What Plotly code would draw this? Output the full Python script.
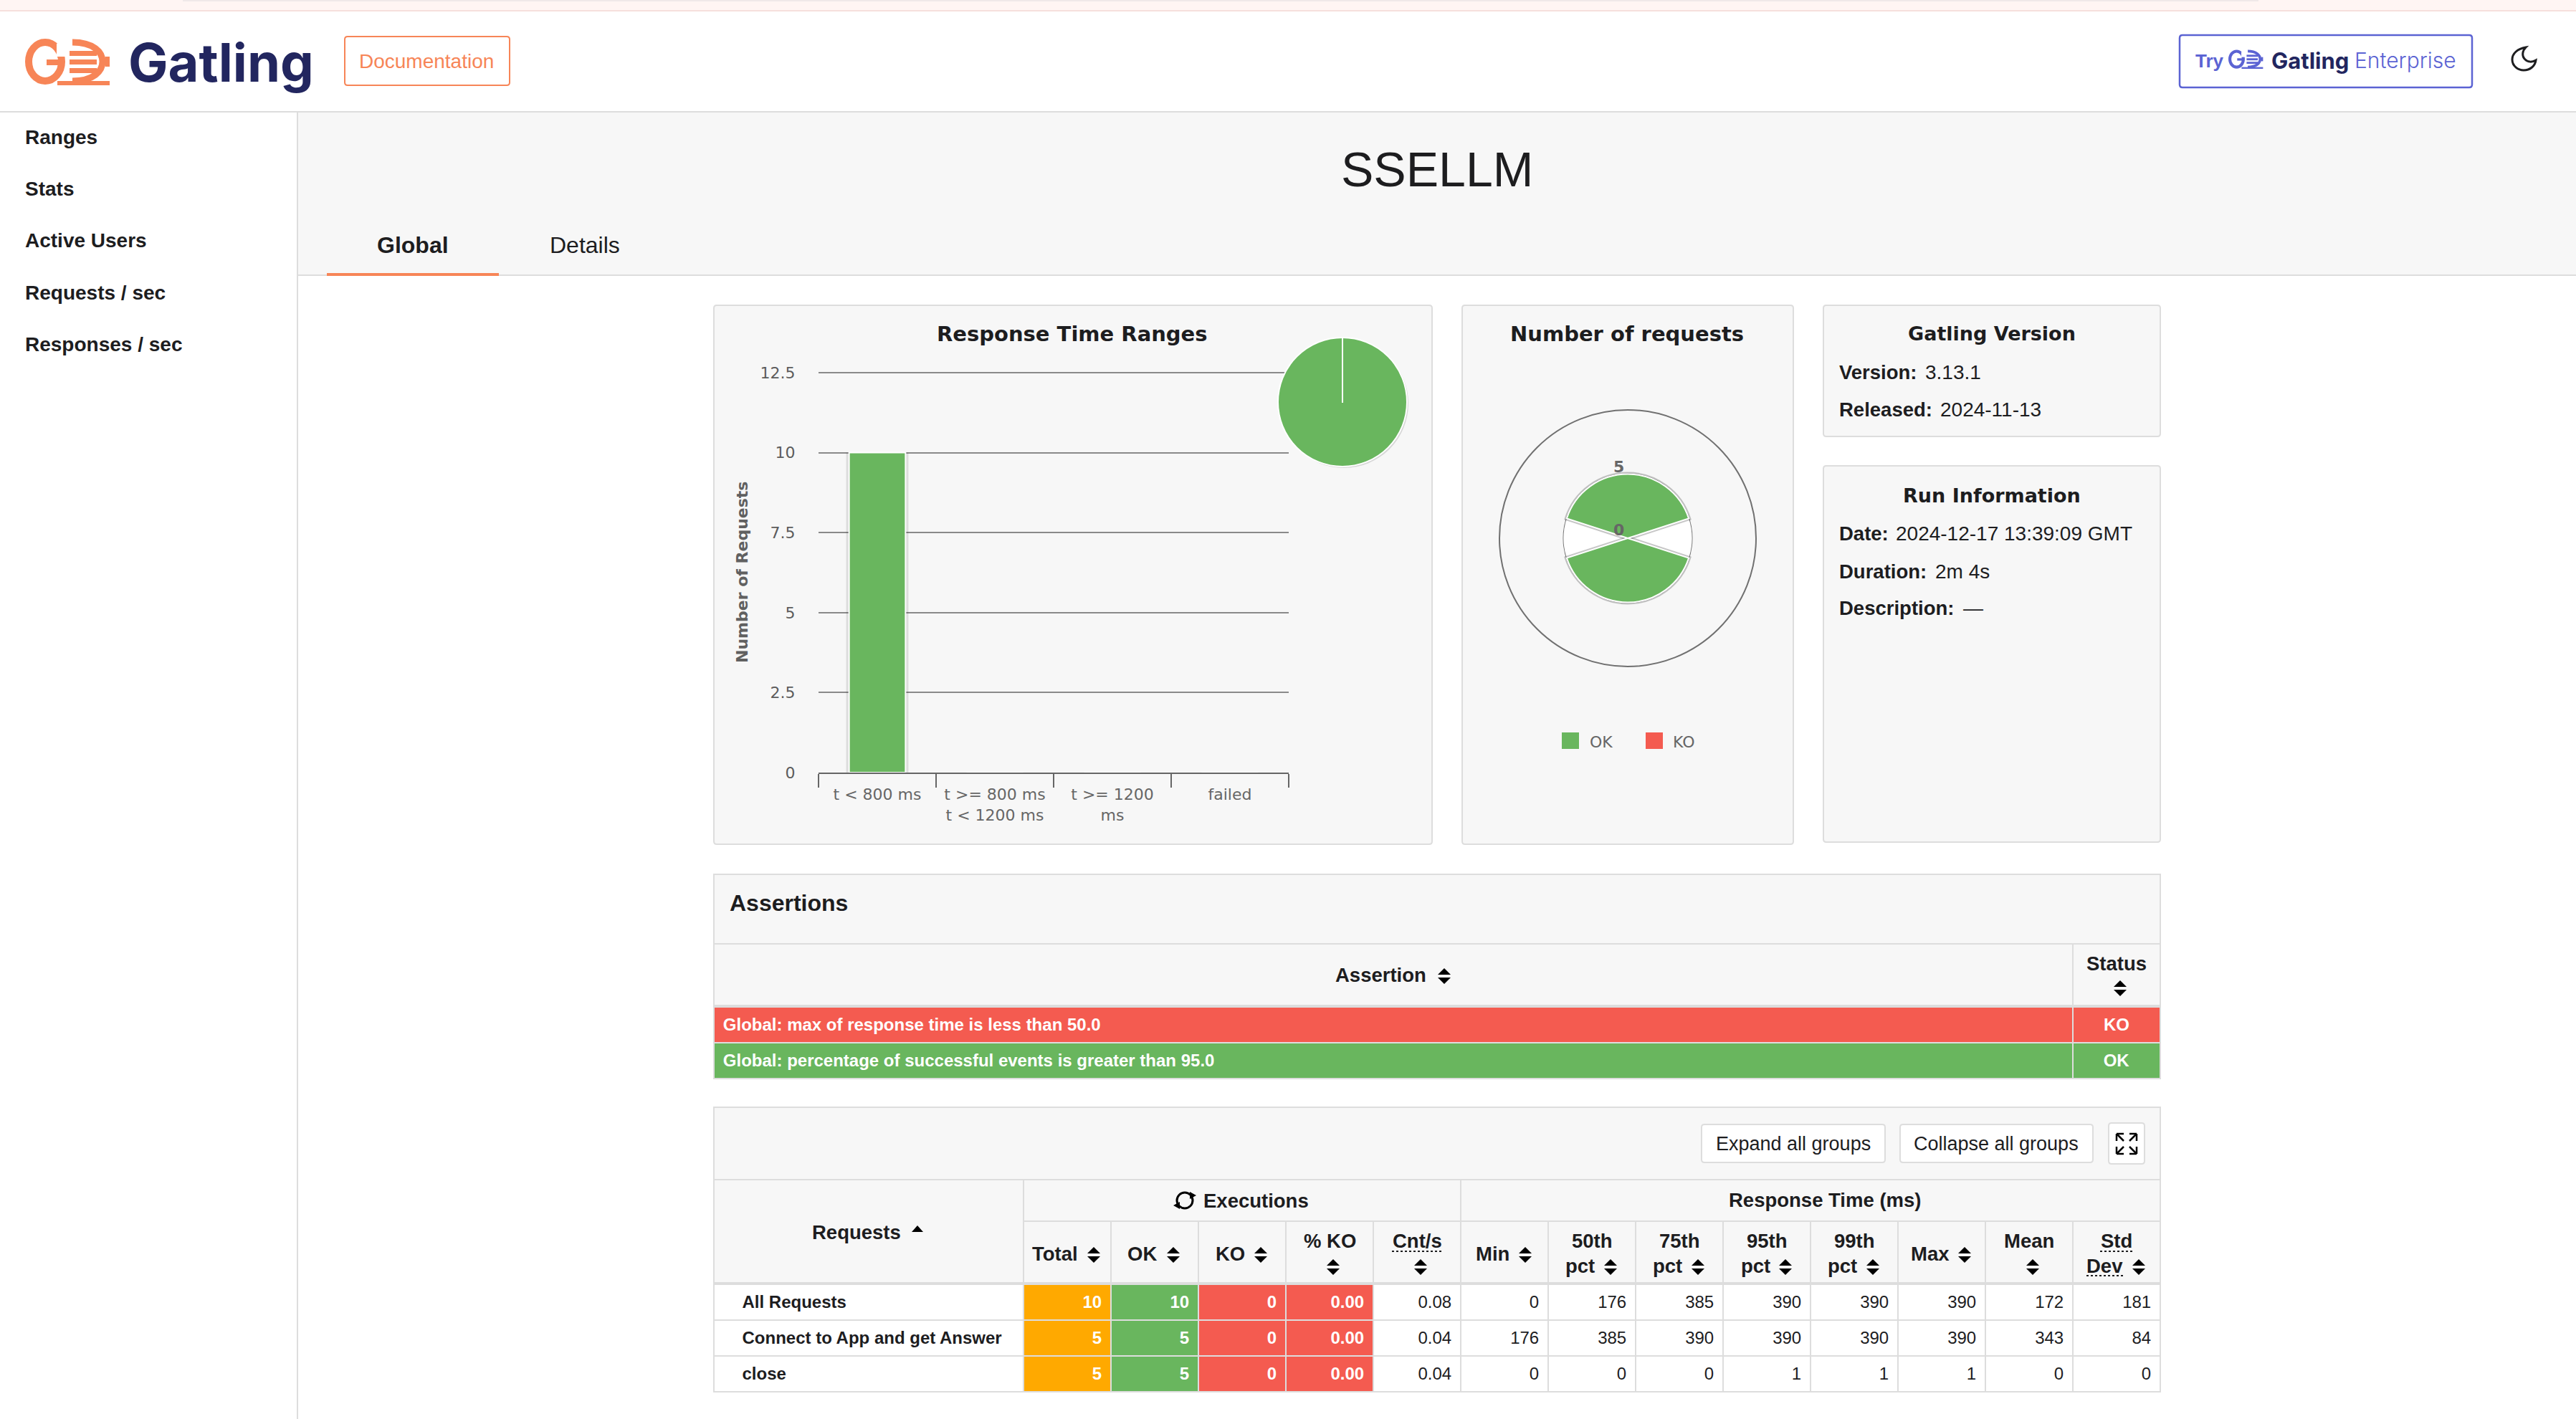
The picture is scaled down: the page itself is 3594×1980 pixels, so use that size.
import plotly.graph_objects as go

W, H = 3594, 1980

# chart data
RANGE_CATS = ["t < 800 ms", "t >= 800 ms<br>t < 1200 ms", "t >= 1200<br>ms", "failed"]
RANGE_VALUES = [10, 0, 0, 0]
RANGE_TICKS = [0, 2.5, 5, 7.5, 10, 12.5]
RANGE_TICK_TEXT = ["0", "2.5", "5", "7.5", "10", "12.5"]
PIE_LABELS = ["t < 800 ms", "t >= 800 ms t < 1200 ms", "t >= 1200 ms", "failed"]
PIE_VALUES = [10, 0, 0, 0]
POLAR_THETA = [0, 180]
POLAR_OK = [5, 5]
POLAR_GAP_THETA = [90, 270]
POLAR_GAP = [5, 5]

ASSERTIONS = ["Global: max of response time is less than 50.0",
              "Global: percentage of successful events is greater than 95.0"]
ASSERTION_STATUS = ["KO", "OK"]

REQUESTS = ["All Requests", "Connect to App and get Answer", "close"]
TOTAL = [10, 5, 5]
OK = [10, 5, 5]
KO = [0, 0, 0]
KO_PCT = ["0.00", "0.00", "0.00"]
CNT_S = ["0.08", "0.04", "0.04"]
MIN_MS = [0, 176, 0]
P50 = [176, 385, 0]
P75 = [385, 390, 0]
P95 = [390, 390, 1]
P99 = [390, 390, 1]
MAX_MS = [390, 390, 1]
MEAN = [172, 343, 0]
STD_DEV = [181, 84, 0]

# colours
ORANGE = "#f78557"
GREEN = "#69b65e"
RED = "#f45b50"
AMBER = "#ffa900"
BORDER = "#dddddd"
PANEL = "#f7f7f7"
INK = "#1d1d1f"
GREY = "#666666"
NAVY = "#22265f"
BLUE = "#5b63d3"
HTML_FONT = "Liberation Sans"
CHART_FONT = "DejaVu Sans"
LOGO_FONT = "Inter"

shapes = []
notes = []


def px(x, y):
    return f"{x / W:.6f},{1 - y / H:.6f}"


def rect(x0, y0, x1, y1, fill=None, line=None, lw=2):
    shapes.append(dict(type="rect", xref="paper", yref="paper", layer="below",
                       x0=x0 / W, x1=x1 / W, y0=1 - y0 / H, y1=1 - y1 / H,
                       fillcolor=fill or "rgba(0,0,0,0)",
                       line=dict(color=line or "rgba(0,0,0,0)", width=lw if line else 0)))


def rrect(x0, y0, x1, y1, fill=None, line=None, lw=2, r=4):
    d = (f"M{px(x0 + r, y0)} L{px(x1 - r, y0)} Q{px(x1, y0)} {px(x1, y0 + r)} "
         f"L{px(x1, y1 - r)} Q{px(x1, y1)} {px(x1 - r, y1)} "
         f"L{px(x0 + r, y1)} Q{px(x0, y1)} {px(x0, y1 - r)} "
         f"L{px(x0, y0 + r)} Q{px(x0, y0)} {px(x0 + r, y0)} Z")
    path(d, fill, line, lw)


def path(d, fill=None, line=None, lw=2, layer="below"):
    shapes.append(dict(type="path", xref="paper", yref="paper", layer=layer, path=d,
                       fillcolor=fill or "rgba(0,0,0,0)",
                       line=dict(color=line or "rgba(0,0,0,0)", width=lw if line else 0)))


def seg(x0, y0, x1, y1, color=BORDER, lw=2, dash=None, layer="below"):
    shapes.append(dict(type="line", xref="paper", yref="paper", layer=layer,
                       x0=x0 / W, x1=x1 / W, y0=1 - y0 / H, y1=1 - y1 / H,
                       line=dict(color=color, width=lw, dash=dash or "solid")))


def circle(cx, cy, rx, ry=None, fill=None, line=None, lw=2, layer="below"):
    ry = ry or rx
    shapes.append(dict(type="circle", xref="paper", yref="paper", layer=layer,
                       x0=(cx - rx) / W, x1=(cx + rx) / W, y0=1 - (cy - ry) / H, y1=1 - (cy + ry) / H,
                       fillcolor=fill or "rgba(0,0,0,0)",
                       line=dict(color=line or "rgba(0,0,0,0)", width=lw if line else 0)))


def txt(x, y, text, size=27.5, color=INK, family=HTML_FONT, anchor="left", angle=0, weight=None):
    font = dict(size=size, color=color, family=family)
    if weight:
        font["weight"] = weight
    notes.append(dict(xref="paper", yref="paper", x=x / W, y=1 - y / H, text=text, showarrow=False,
                      xanchor=anchor, yanchor="middle", textangle=angle, borderpad=0, font=font))


def sort_icon(x, y):
    path(f"M{px(x - 9, y - 2)} L{px(x, y - 11)} L{px(x + 9, y - 2)} Z", "#000000")
    path(f"M{px(x - 9, y + 2)} L{px(x + 9, y + 2)} L{px(x, y + 11)} Z", "#000000")


def logo(x, y, s, color):
    # orange/blue gear mark in the brand logos
    circle(x + 28 * s, y + 33 * s, 23 * s, 27 * s, line=color, lw=10 * s)
    rect(x + 30 * s, y + 30 * s, x + 50 * s, y + 38 * s, fill=color)
    rect(x + 44 * s, y + 8 * s, x + 60 * s, y + 26 * s, fill="#ffffff")
    path(f"M{px(x + 66 * s, y + 6 * s)} C{px(x + 96 * s, y + 6 * s)} {px(x + 108 * s, y + 20 * s)} {px(x + 108 * s, y + 33 * s)} "
         f"C{px(x + 108 * s, y + 46 * s)} {px(x + 96 * s, y + 60 * s)} {px(x + 66 * s, y + 60 * s)}",
         line=color, lw=9 * s)
    for dy in (18, 30, 42):
        rect(x + 62 * s, y + dy * s, x + 100 * s, y + (dy + 7) * s, fill=color)
    rect(x + 112 * s, y + 26 * s, x + 118 * s, y + 40 * s, fill=color)
    rect(x + 45 * s, y + 60 * s, x + 118 * s, y + 66 * s, fill=color)


# page frame
rect(0, 0, W, 14, fill="#fff5f3")
rect(255, 0, 3151, 2, fill="#f0e9e9")
rect(0, 14, W, 16, fill="#f6dfdc")
rect(415, 156, W, 384, fill=PANEL)
seg(0, 156, W, 156)
seg(415, 156, 415, H)
seg(415, 384, W, 384)
rect(456, 381, 696, 385, fill=ORANGE)

logo(35, 53, 1, ORANGE)
txt(178, 87, "<b>Gatling</b>", 74, NAVY, LOGO_FONT)
rrect(481, 51, 711, 119, line=ORANGE)
txt(595, 85, "Documentation", 28, ORANGE, anchor="center")
rrect(3041, 49, 3449, 122, line=BLUE, lw=2.5)
txt(3062, 85, "<b>Try</b>", 26, BLUE)
logo(3109, 69, 0.41, BLUE)
txt(3168, 84, "<b>Gatling</b>", 31, NAVY, LOGO_FONT)
txt(3284, 84, "Enterprise", 30, BLUE, LOGO_FONT, weight=300)
path(f"M{px(3524, 66)} C{px(3512, 68)} {px(3505, 75)} {px(3505, 83)} C{px(3505, 92)} {px(3513, 98)} {px(3521, 98)} "
     f"C{px(3530, 98)} {px(3537, 92)} {px(3538, 84)} C{px(3533, 87)} {px(3527, 87)} {px(3523, 83)} "
     f"C{px(3518, 78)} {px(3519, 71)} {px(3524, 66)} Z", line=INK, lw=3)

for label, y in zip(["Ranges", "Stats", "Active Users", "Requests / sec", "Responses / sec"],
                    [192, 263, 335, 408, 480]):
    txt(34, y, f"<b>{label}</b>", 28)
txt(2005, 236, "SSELLM", 68, anchor="center")
txt(576, 342, "<b>Global</b>", 32, anchor="center")
txt(816, 342, "Details", 32, anchor="center")

# top panels
for box in [(996, 426, 1998, 1178), (2040, 426, 2502, 1178), (2544, 426, 3014, 609), (2544, 650, 3014, 1175)]:
    rrect(*box, fill=PANEL, line=BORDER)
txt(1496, 466, "<b>Response Time Ranges</b>", 29, INK, CHART_FONT, "center")
txt(2270, 466, "<b>Number of requests</b>", 29, INK, CHART_FONT, "center")
txt(2779, 466, "<b>Gatling Version</b>", 27, INK, CHART_FONT, "center")
txt(2779, 691, "<b>Run Information</b>", 27, INK, CHART_FONT, "center")
for label, value, y, x in [("Version:", "3.13.1", 519, 2685), ("Released:", "2024-11-13", 571, 2706),
                           ("Date:", "2024-12-17 13:39:09 GMT", 744, 2644), ("Duration:", "2m 4s", 797, 2699),
                           ("Description:", "—", 849, 2738)]:
    txt(2565, y, f"<b>{label}</b>")
    txt(x, y, value, 28)
txt(1035, 799, "<b>Number of Requests</b>", 22, "#606060", CHART_FONT, "center", -90)

# legend + polar labels
rect(2179, 1022, 2203, 1045, fill=GREEN)
rect(2296, 1022, 2320, 1045, fill=RED)
txt(2217, 1035, "OK", 22, GREY, CHART_FONT)
txt(2333, 1035, "KO", 22, GREY, CHART_FONT)
txt(2258, 651, "<b>5</b>", 22, GREY, CHART_FONT, "center")
txt(2258, 740, "<b>0</b>", 22, GREY, CHART_FONT, "center")
circle(1875, 563, 90, fill="rgba(0,0,0,0.13)")

# assertions panel
rect(996, 1220, 3014, 1403, fill=PANEL, line=BORDER)
seg(996, 1317, 3014, 1317)
seg(2892, 1317, 2892, 1403)
txt(1017, 1260, "<b>Assertions</b>", 32)
txt(1862, 1360, "<b>Assertion</b>", 27.5)
sort_icon(2015, 1362)
txt(2953, 1344, "<b>Status</b>", 27.5, anchor="center")
sort_icon(2958, 1379)

# stats panel
COL_X = [1428 + 122 * i for i in range(14)]
rect(996, 1545, 3014, 1790, fill=PANEL, line=BORDER)
seg(996, 1646, 3014, 1646)
seg(1428, 1704, 3014, 1704)
seg(1428, 1646, 1428, 1790)
seg(2038, 1646, 2038, 1790)
for x in COL_X[1:-1]:
    seg(x, 1704, x, 1790)
rrect(2374, 1569, 2630, 1622, fill="#ffffff", line=BORDER)
rrect(2651, 1569, 2920, 1622, fill="#ffffff", line=BORDER)
rrect(2942, 1567, 2992, 1624, fill="#ffffff", line=BORDER)
txt(2502, 1596, "Expand all groups", 27, anchor="center")
txt(2785, 1596, "Collapse all groups", 27, anchor="center")
for sx, sy in [(-1, -1), (1, -1), (-1, 1), (1, 1)]:
    cx, cy = 2967 + sx * 14, 1596 + sy * 14
    seg(cx, cy, cx - sx * 10, cy - sy * 10, "#000000", 2.5)
    seg(cx, cy, cx - sx * 10, cy, "#000000", 2.5)
    seg(cx, cy, cx, cy - sy * 10, "#000000", 2.5)

txt(1195, 1719, "<b>Requests</b>", 27.5, anchor="center")
path(f"M{px(1272, 1719)} L{px(1280, 1710)} L{px(1288, 1719)} Z", "#000000")
circle(1653, 1675, 11, line="#000000", lw=3)
path(f"M{px(1660, 1663)} L{px(1669, 1668)} L{px(1660, 1673)} Z", "#000000")
path(f"M{px(1646, 1677)} L{px(1637, 1682)} L{px(1646, 1687)} Z", "#000000")
txt(1752, 1675, "<b>Executions</b>", 27.5, anchor="center")
txt(2546, 1674, "<b>Response Time (ms)</b>", 27.5, anchor="center")

for label, x, icon in [("Total", 1439, 1526), ("OK", 1572, 1637), ("KO", 1695, 1759),
                       ("Min", 2058, 2128), ("Max", 2665, 2741)]:
    txt(x, 1749, f"<b>{label}</b>", 27.5)
    sort_icon(icon, 1751)
for label, x, icon in [("% KO", 1855, 1860), ("Cnt/s", 1977, 1982), ("Mean", 2831, 2836)]:
    txt(x, 1731, f"<b>{label}</b>", 27.5, anchor="center")
    sort_icon(icon, 1768)
seg(1942, 1746, 2012, 1746, INK, 2, "dot")
for label, x, x2, icon in [("50th", 2221, 2204, 2247), ("75th", 2343, 2326, 2369),
                           ("95th", 2465, 2449, 2491), ("99th", 2587, 2570, 2613)]:
    txt(x, 1731, f"<b>{label}</b>", 27.5, anchor="center")
    txt(x2, 1766, "<b>pct</b>", 27.5, anchor="center")
    sort_icon(icon, 1768)
txt(2953, 1731, "<b>Std</b>", 27.5, anchor="center")
txt(2936, 1766, "<b>Dev</b>", 27.5, anchor="center")
sort_icon(2984, 1768)
seg(2930, 1746, 2975, 1746, INK, 2, "dot")
seg(2911, 1780, 2962, 1780, INK, 2, "dot")

fig = go.Figure()

# bar chart
fig.add_trace(go.Bar(x=RANGE_CATS, y=RANGE_VALUES, width=0.53, showlegend=False, hoverinfo="skip",
                     marker=dict(color="rgba(0,0,0,0.10)", line=dict(width=0))))
fig.add_trace(go.Bar(x=RANGE_CATS, y=RANGE_VALUES, width=0.48, showlegend=False,
                     marker=dict(color=GREEN, line=dict(color="#ffffff", width=2))))

# pie in the corner
fig.add_trace(go.Pie(labels=PIE_LABELS, values=PIE_VALUES, sort=False, textinfo="none", showlegend=False,
                     marker=dict(colors=[GREEN, AMBER, ORANGE, RED], line=dict(color="#ffffff", width=2)),
                     domain=dict(x=[(1873 - 90) / W, (1873 + 90) / W], y=[1 - (561 + 90) / H, 1 - (561 - 90) / H])))

# polar column chart
fig.add_trace(go.Barpolar(theta=POLAR_GAP_THETA, r=POLAR_GAP, width=[36, 36], showlegend=False, hoverinfo="skip",
                          marker=dict(color="#ffffff", line=dict(width=0))))
fig.add_trace(go.Barpolar(theta=POLAR_THETA, r=POLAR_OK, width=[144, 144], showlegend=False, hoverinfo="skip",
                          marker=dict(color="rgba(0,0,0,0)", line=dict(color="rgba(0,0,0,0.22)", width=6))))
fig.add_trace(go.Barpolar(theta=POLAR_THETA, r=POLAR_OK, width=[144, 144], name="OK", showlegend=False,
                          marker=dict(color=GREEN, line=dict(color="#ffffff", width=2))))

# the tables get an empty header band, so the domain starts that much higher
HEADER_GAP = 14

# assertion rows
fig.add_trace(go.Table(
    domain=dict(x=[996 / W, 3014 / W], y=[1 - 1515 / H, 1 - (1403 - HEADER_GAP) / H]),
    columnwidth=[1896, 122],
    header=dict(values=[], height=0, fill=dict(color="rgba(0,0,0,0)"), line=dict(width=0)),
    cells=dict(values=[[f"\u2009<b>{a}</b>" for a in ASSERTIONS], [f"<b>{s}</b>" for s in ASSERTION_STATUS]],
               height=50, align=["left", "center"],
               fill=dict(color=[[RED, GREEN], [RED, GREEN]]),
               line=dict(color=BORDER, width=2),
               font=dict(family=HTML_FONT, size=24, color="#ffffff"))))

# stats rows
stat_cols = [CNT_S, MIN_MS, P50, P75, P95, P99, MAX_MS, MEAN, STD_DEV]
white = ["#ffffff"] * len(REQUESTS)
fig.add_trace(go.Table(
    domain=dict(x=[996 / W, 3014 / W], y=[1 - 1955 / H, 1 - (1790 - HEADER_GAP) / H]),
    columnwidth=[432] + [122] * 13,
    header=dict(values=[], height=0, fill=dict(color="rgba(0,0,0,0)"), line=dict(width=0)),
    cells=dict(values=[["\u00a0\u00a0\u00a0\u00a0\u2009<b>" + r + "</b>" for r in REQUESTS],
                       [f"<b>{v}</b>" for v in TOTAL], [f"<b>{v}</b>" for v in OK],
                       [f"<b>{v}</b>" for v in KO], [f"<b>{v}</b>" for v in KO_PCT]]
                      + [[f"<span>{v}</span>" for v in c] for c in stat_cols],
               height=50, align=["left"] + ["right"] * 13,
               suffix=[""] + ["\u2009"] * 13,
               fill=dict(color=[white, [AMBER] * 3, [GREEN] * 3, [RED] * 3, [RED] * 3] + [white] * 9),
               line=dict(color=BORDER, width=2),
               font=dict(family=HTML_FONT, size=24,
                         color=[[INK] * 3] + [white] * 4 + [[INK] * 3] * 9))))

# seam of the pie
seg(1873, 472, 1873, 561, "#ffffff", 2, layer="above")

# 12.5 gridline sits on the top edge, leave a hair of room so it gets drawn
y_top = 12.55
y_top_px = 1078 - 558 * y_top / 12.5

fig.update_layout(
    template="none",
    width=W, height=H,
    margin=dict(l=0, r=0, t=0, b=0, pad=0),
    autosize=False,
    paper_bgcolor="#ffffff",
    plot_bgcolor="rgba(0,0,0,0)",
    barmode="overlay",
    shapes=shapes,
    annotations=notes,
    xaxis=dict(domain=[1142 / W, 1798 / W], type="category", categoryorder="array", categoryarray=RANGE_CATS,
               range=[-0.5, 3.5], tickson="boundaries", ticks="outside", ticklen=19, tickwidth=2, tickcolor=GREY,
               showline=True, linecolor=GREY, linewidth=2, showgrid=False, zeroline=False, fixedrange=True,
               automargin=False, ticklabelstandoff=10, tickfont=dict(family=CHART_FONT, size=22, color=GREY)),
    yaxis=dict(domain=[1 - 1078 / H, 1 - y_top_px / H], range=[0, y_top], tickvals=RANGE_TICKS,
               ticktext=RANGE_TICK_TEXT, ticks="outside", ticklen=27, tickcolor="rgba(0,0,0,0)", showline=False,
               zeroline=False, gridcolor="#8a8a8a", gridwidth=2, fixedrange=True, automargin=False,
               tickfont=dict(family=CHART_FONT, size=22, color="#5c5c5c")),
    polar=dict(domain=dict(x=[(2271 - 179) / W, (2271 + 179) / W], y=[1 - (751 + 179) / H, 1 - (751 - 179) / H]),
               bgcolor="rgba(0,0,0,0)", barmode="overlay",
               angularaxis=dict(rotation=90, direction="clockwise", showgrid=False, showticklabels=False,
                                ticks="", showline=True, linecolor="#707070", linewidth=2),
               radialaxis=dict(range=[0, 10], tickvals=[0, 5, 10], showticklabels=False, ticks="", showline=False,
                               gridcolor="#707070", gridwidth=2)),
)

fig.write_html("out.html", config=dict(displayModeBar=False),
               post_script="document.body.style.margin='0';document.body.style.overflow='hidden';"
                           "document.head.insertAdjacentHTML('beforeend',"
                           "'<style>.cell-text{transform:translateY(3px)}</style>');")
